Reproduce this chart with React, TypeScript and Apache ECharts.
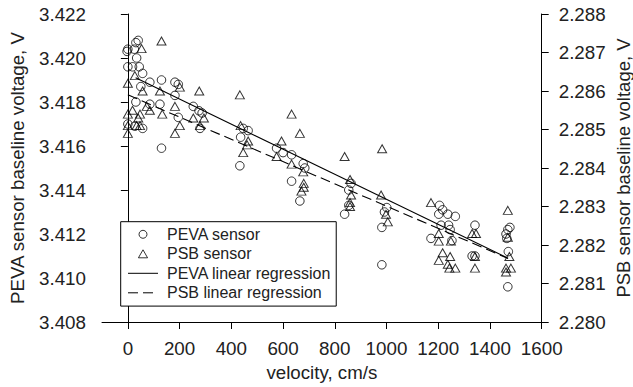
import React, { useEffect, useRef } from "react";
import * as echarts from "echarts";

// ---- data ----
const xTicks = [0, 200, 400, 600, 800, 1000, 1200, 1400, 1600];

const pevaVelocity = [
  0, -3, 25, 31, 40, 0, 18, 44, 34, 57, 50, 31, 0, 27, 57, 85, 85, 130, 124, 130,
  182, 195, 182, 195, 253, 275, 287, 279, 433, 436, 446, 465, 575, 600, 633, 633,
  678, 684, 665, 854, 863, 838, 854, 982, 992, 1001, 982, 1172, 1205, 1211, 1202,
  1217, 1237, 1240, 1266, 1246, 1253, 1342, 1342, 1331, 1462, 1469, 1477, 1471,
  1469, 1465,
];
const pevaVoltage = [
  3.4204, 3.4203, 3.4204, 3.4207, 3.4208, 3.4196, 3.4196, 3.4196, 3.42, 3.4193,
  3.4187, 3.418, 3.417, 3.4169, 3.4168, 3.4189, 3.4179, 3.419, 3.4179, 3.4159,
  3.4189, 3.4188, 3.4183, 3.4173, 3.4178, 3.4176, 3.4175, 3.4168, 3.4151, 3.4164,
  3.4168, 3.4167, 3.4159, 3.4157, 3.4156, 3.4144, 3.4152, 3.415, 3.4135, 3.414,
  3.4143, 3.4129, 3.4133, 3.4123, 3.413, 3.4132, 3.4106, 3.4118, 3.4133, 3.4124,
  3.4129, 3.4131, 3.4129, 3.4124, 3.4128, 3.4122, 3.4117, 3.4124, 3.411, 3.411,
  3.412, 3.4122, 3.4123, 3.4112, 3.4096, 3.4118,
];

const psbVelocity = [
  0, 0, 0, 0, 18, 27, 40, 47, 47, 53, 57, 73, 34, 85, 130, 133, 124, 182, 182, 201,
  201, 253, 276, 294, 279, 433, 436, 446, 461, 465, 575, 594, 633, 665, 633, 678,
  680, 680, 671, 838, 983, 859, 979, 863, 859, 859, 998, 1005, 1172, 1202, 1202,
  1217, 1202, 1237, 1246, 1243, 1266, 1249, 1331, 1346, 1342, 1342, 1469, 1469,
  1475, 1462, 1462, 1481,
];
const psbVoltage = [
  2.2862, 2.2854, 2.2849, 2.2851, 2.2855, 2.2864, 2.2853, 2.2854, 2.2851, 2.2871,
  2.286, 2.2856, 2.2851, 2.2855, 2.2873, 2.2854, 2.286, 2.2856, 2.2849, 2.2851,
  2.2861, 2.2853, 2.286, 2.2853, 2.2851, 2.2859, 2.2851, 2.2844, 2.2846, 2.2847,
  2.2843, 2.2847, 2.2854, 2.2849, 2.2841, 2.2839, 2.2836, 2.2835, 2.2834, 2.2843,
  2.2845, 2.2837, 2.2833, 2.2833, 2.2831, 2.283, 2.2828, 2.2826, 2.2831, 2.2823,
  2.2821, 2.2818, 2.2816, 2.2815, 2.2817, 2.2814, 2.2814, 2.2821, 2.2823, 2.2823,
  2.2814, 2.2817, 2.2829, 2.2822, 2.2817, 2.2814, 2.2813, 2.2814,
];

const pevaFitVelocity = [30, 1470];
const pevaFitVoltage = [3.4191, 3.4109];
const psbFitVelocity = [0, 1470];
const psbFitVoltage = [2.2859, 2.28165];

const seriesNames = [
  "PEVA sensor",
  "PSB sensor",
  "PEVA linear regression",
  "PSB linear regression",
];

const FONT = "'Liberation Sans', Arial, Helvetica, sans-serif";
const INK = "#222";

const zip = (a: number[], b: number[]) => a.map((v, i) => [v, b[i]]);

export default function App() {
  const ref = useRef<HTMLDivElement>(null);

  useEffect(() => {
    if (!ref.current) return;
    const chart = echarts.init(ref.current, undefined, { renderer: "svg" });

    const axisLine = { show: true, lineStyle: { color: "#000", width: 1 } };
    const axisTick = { show: true, inside: false, length: 7, lineStyle: { color: "#000", width: 1 } };
    const nameStyle = { fontSize: 18.7, color: INK, fontFamily: FONT };
    const labelStyle = { fontSize: 18.8, color: INK, fontFamily: FONT };

    chart.setOption({
      animation: false,
      backgroundColor: "#fff",
      textStyle: { fontFamily: FONT },
      grid: {
        left: 102,
        right: 91.3,
        top: 14,
        bottom: 65,
        containLabel: false,
        outerBoundsMode: "none",
      },
      xAxis: {
        type: "value",
        min: -100,
        max: 1600,
        name: "velocity, cm/s",
        nameLocation: "middle",
        nameGap: 41,
        nameTextStyle: nameStyle,
        axisLine,
        axisTick: { ...axisTick, customValues: xTicks },
        axisLabel: {
          ...labelStyle,
          customValues: xTicks,
          margin: 17,
          formatter: (v: number) => String(v),
        },
        splitLine: { show: false },
      },
      yAxis: [
        {
          type: "value",
          position: "left",
          min: 3.408,
          max: 3.422,
          interval: 0.002,
          name: "PEVA sensor baseline voltage, V",
          nameLocation: "middle",
          nameRotate: 90,
          nameGap: 75,
          nameMoveOverlap: false,
          nameTextStyle: nameStyle,
          axisLine,
          axisTick,
          axisLabel: {
            ...labelStyle,
            margin: 16,
            formatter: (v: number) => v.toFixed(3),
          },
          splitLine: { show: false },
        },
        {
          type: "value",
          position: "right",
          min: 2.28,
          max: 2.288,
          interval: 0.001,
          name: "PSB sensor baseline voltage, V",
          nameLocation: "middle",
          nameRotate: 90,
          nameGap: 72,
          nameMoveOverlap: false,
          nameTextStyle: { ...nameStyle, fontSize: 18.5 },
          axisLine,
          axisTick,
          axisLabel: {
            ...labelStyle,
            margin: 17,
            formatter: (v: number) => v.toFixed(3),
          },
          splitLine: { show: false },
        },
      ],
      legend: {
        orient: "vertical",
        left: 120.7,
        top: 221.7,
        padding: [4.6, 5, 5.3, 6.8],
        itemWidth: 30,
        itemHeight: 8,
        itemGap: 3.5,
        symbolKeepAspect: true,
        borderColor: "#000",
        borderWidth: 1,
        backgroundColor: "#fff",
        selectedMode: false,
        textStyle: { fontSize: 16, color: INK, fontFamily: FONT, lineHeight: 16, padding: [0, 0, 0, 4] },
        itemStyle: { borderWidth: 1 },
        lineStyle: { width: 1 },
        data: [
          { name: seriesNames[0], icon: "circle" },
          { name: seriesNames[1], icon: "path://M4,0L8,7L0,7Z" },
          { name: seriesNames[2], itemStyle: { opacity: 0 } },
          { name: seriesNames[3], itemStyle: { opacity: 0 } },
        ],
      },
      series: [
        {
          name: seriesNames[0],
          type: "scatter",
          yAxisIndex: 0,
          symbol: "circle",
          symbolSize: 8.5,
          itemStyle: { color: "rgba(0,0,0,0)", borderColor: "#000", borderWidth: 1 },
          data: zip(pevaVelocity, pevaVoltage),
          z: 3,
        },
        {
          name: seriesNames[1],
          type: "scatter",
          yAxisIndex: 1,
          symbol: "triangle",
          symbolSize: [9, 8],
          itemStyle: { color: "rgba(0,0,0,0)", borderColor: "#000", borderWidth: 1 },
          data: zip(psbVelocity, psbVoltage),
          z: 3,
        },
        {
          name: seriesNames[2],
          type: "line",
          yAxisIndex: 0,
          symbol: "none",
          color: "#000",
          lineStyle: { color: "#000", width: 1.1, type: "solid" },
          data: zip(pevaFitVelocity, pevaFitVoltage),
          z: 2,
        },
        {
          name: seriesNames[3],
          type: "line",
          yAxisIndex: 1,
          symbol: "none",
          color: "#000",
          lineStyle: { color: "#000", width: 1.1, type: [10, 5] },
          data: zip(psbFitVelocity, psbFitVoltage),
          z: 2,
        },
      ],
    });

    return () => chart.dispose();
  }, []);

  return (
    <div
      ref={ref}
      style={{ position: "fixed", left: 0, top: 0, width: 633, height: 387, background: "#fff" }}
    />
  );
}
